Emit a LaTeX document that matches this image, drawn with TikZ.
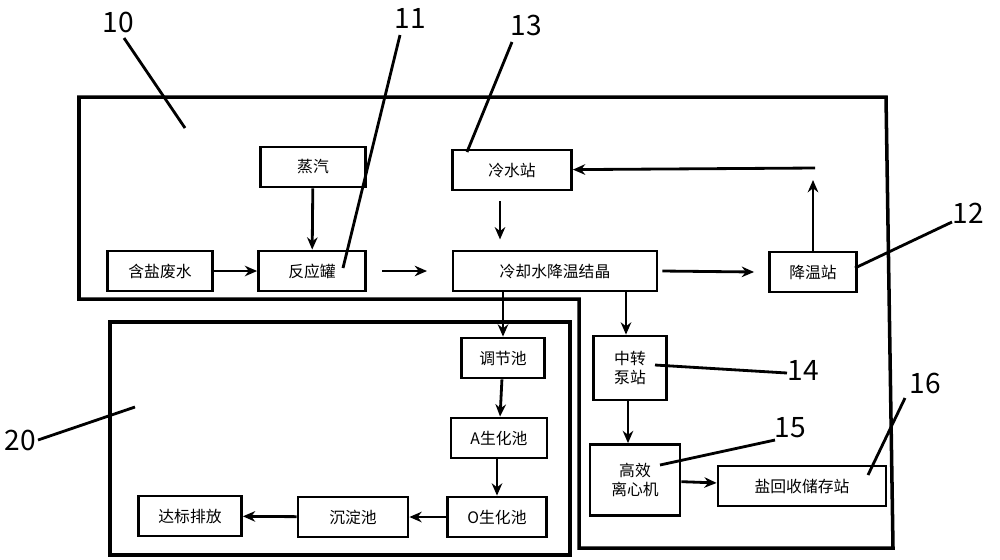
\documentclass[tikz,border=0pt]{standalone}
\usepackage{fontspec}
\setmainfont{Noto Sans CJK SC}
\usetikzlibrary{arrows.meta}
\tikzset{
  box/.style={draw,line width=1.6pt,minimum height=0.8cm,inner sep=1pt,font=\fontsize{9}{11}\selectfont},
  flow/.style={line width=1.6pt,-{Stealth[length=7pt,width=6pt]}},
  tag/.style={font=\fontsize{16}{18}\selectfont},
  lead/.style={line width=1.6pt}
}
\begin{document}
\begin{tikzpicture}[x=0.02cm,y=-0.02cm]
\useasboundingbox (0,0) rectangle (1000,559);
% outlines
\draw[line width=2pt] (79,97) -- (886,97) -- (893,548) -- (579,548) -- (579,299) -- (79,299) -- cycle;
\draw[line width=2pt] (110,322) rectangle (570,555);

% boxes
\node[box,minimum width=2.1cm] (steam) at (313,167) {蒸汽};
\node[box,minimum width=2.38cm] (cold) at (512,170) {冷水站};
\node[box,minimum width=2.1cm] (waste) at (160,271) {含盐废水};
\node[box,minimum width=2.14cm] (tank) at (312,271) {反应罐};
\node[box,minimum width=4.08cm] (cryst) at (555,271) {冷却水降温结晶};
\node[box,minimum width=1.74cm] (cool) at (813,272) {降温站};
\node[box,minimum width=1.66cm] (adj) at (503,358) {调节池};
\node[box,minimum width=1.46cm,minimum height=1.28cm,align=center] (pump) at (630,368) {中转\\泵站};
\node[box,minimum width=1.92cm] (apool) at (499,438) {A生化池};
\node[box,minimum width=1.8cm,minimum height=1.42cm,align=center] (cent) at (635,480) {高效\\离心机};
\node[box,minimum width=3.36cm] (salt) at (802,486) {盐回收储存站};
\node[box,minimum width=2.06cm] (out) at (190,516) {达标排放};
\node[box,minimum width=2.2cm] (sed) at (353,517) {沉淀池};
\node[box,minimum width=1.98cm] (opool) at (497,517) {O生化池};

% flows
\coordinate (tankR) at (382,271);
\coordinate (crystL) at (427,271);
\coordinate (upTop) at (813,180);
\coordinate (backR) at (815,168);
\draw[flow] (steam) -- (tank);
\draw[flow] (waste) -- (tank);
\draw[flow] (tankR) -- (crystL);
\draw[flow] (cold.south -| 500,0) ++(0,10) -- ++(0,38);
\draw[flow] (cryst) -- ++(0,0) (cryst.east) ++(4,0) -- ([xshift=-8pt]cool.west);
\draw[flow] (cool) -- (upTop);
\draw[flow] (backR) -- (cold);
\draw[flow] (cryst.south -| adj) -- (adj);
\draw[flow] (cryst.south -| 626,0) -- (pump.north -| 626,0);
\draw[flow] (adj) -- (apool);
\draw[flow] (apool.south -| opool) -- (opool);
\draw[flow] (opool) -- (sed);
\draw[flow] (sed) -- (out);
\draw[flow] (pump.south -| 628,0) -- (cent.north -| 628,0);
\draw[flow] (cent) -- (salt);

% labels
\node[tag] (n10) at (118,22) {10};
\node[tag] (n11) at (410,18) {11};
\node[tag] (n13) at (526,25) {13};
\node[tag] (n12) at (968,213) {12};
\node[tag] (n14) at (803,370) {14};
\node[tag] (n15) at (790,428) {15};
\node[tag] (n16) at (925,383) {16};
\node[tag] (n20) at (20,440) {20};
\coordinate (p10) at (185,128);
\coordinate (p11) at (343,268);
\coordinate (p13) at (467,152);
\coordinate (p12) at (855,268);
\coordinate (p14) at (655,365);
\coordinate (p15) at (660,465);
\coordinate (p16) at (868,475);
\coordinate (p20) at (135,407);
\draw[lead] (124,38) -- (p10);
\draw[lead] (400,35) -- (p11);
\draw[lead] (512,42) -- (p13);
\draw[lead] (952,222) -- (p12);
\draw[lead] (787,373) -- (p14);
\draw[lead] (775,440) -- (p15);
\draw[lead] (905,398) -- (p16);
\draw[lead] (38,440) -- (p20);
\end{tikzpicture}
\end{document}
